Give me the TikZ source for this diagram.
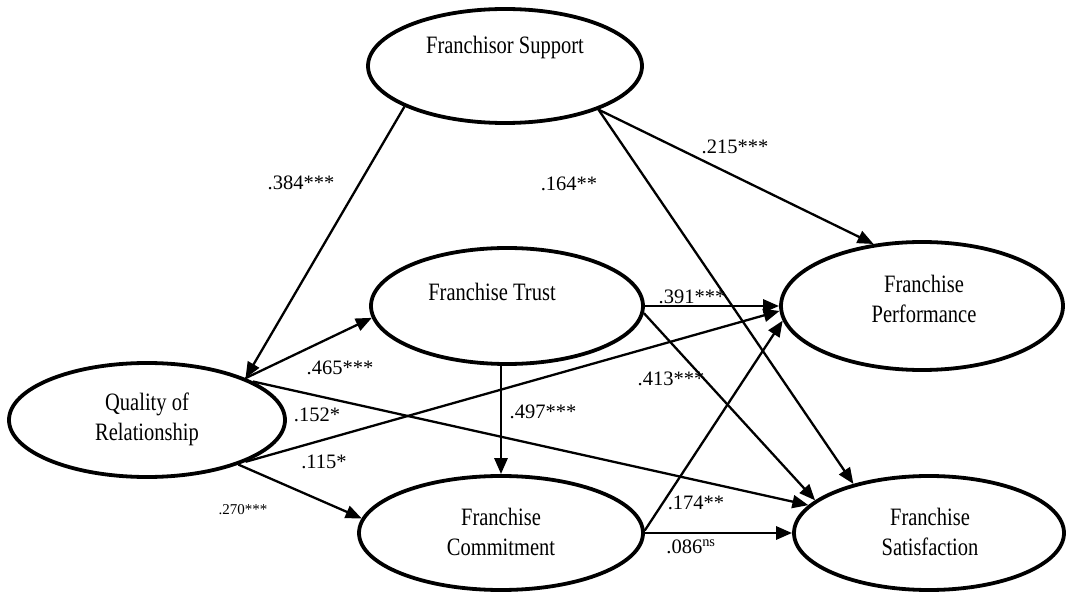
\documentclass[tikz,border=0pt]{standalone}
\usepackage{fontspec}
\setmainfont{Liberation Serif}
\newfontfamily\ttlfont[FakeStretch=0.82]{Liberation Serif}
\usetikzlibrary{arrows.meta,shapes.geometric}
\begin{document}
\begin{tikzpicture}[x=1pt,y=-1pt,
  ell/.style={draw, ellipse, line width=3.8pt, inner sep=0pt},
  ttl/.style={font=\ttlfont\fontsize{25}{30}\selectfont, align=center, inner sep=0pt},
  lbl/.style={font=\fontsize{20.5}{24}\selectfont, inner sep=0pt},
  lbls/.style={font=\fontsize{15}{18}\selectfont, inner sep=0pt},
  arr/.style={line width=2.3pt, -{Triangle[length=16pt,width=13pt]}},
  arrb/.style={arr, line width=2.9pt},
]
\useasboundingbox (0,0) rectangle (1066,593);

% ellipses
\node[ell, minimum width=274pt, minimum height=114pt] (fs) at (505,66) {};
\node[ell, minimum width=272pt, minimum height=116pt] (trust) at (507,306) {};
\node[ell, minimum width=276pt, minimum height=114pt] (qor) at (147,420) {};
\node[ell, minimum width=284pt, minimum height=114pt] (comm) at (501,533) {};
\node[ell, minimum width=282pt, minimum height=128pt] (perf) at (922,306) {};
\node[ell, minimum width=270pt, minimum height=114pt] (sat) at (929,533) {};

% texts
\node[ttl] (fst) at (505,47) {Franchisor Support};
\node[ttl] (trt) at (492,292) {Franchise Trust};
\node[ttl] (qort) at (147,419) {Quality of\\Relationship};
\node[ttl] (perft) at (924,299) {Franchise\\Performance};
\node[ttl] (commt) at (501,532) {Franchise\\Commitment};
\node[ttl] (satt) at (930,532) {Franchise\\Satisfaction};

% connectors
\draw[arr] (fs.202.5) -- (qor.23);
\draw[arr] (qor.23) -- (trust.185.8);
\draw[arr] (qor.20) -- (sat.167.8);
\draw[arr] (qor.337.6) -- (perf.182.4);
\draw[arr] (qor.334.7) -- (comm.174.7);
\draw[arrb] (trust.south -| comm.north) -- (comm.north);
\draw[arrb] (trust.east) -- (perf.west);
\draw[arr] (trust.357.5) -- (sat.164.1);
\draw[arr] (fs.335) -- (sat.147.5);
\draw[arr] (fs.335) -- (perf.128.4);
\draw[arr] (comm.1) -- (perf.186.4);
\draw[arrb] (comm.east) -- (sat.west);

% labels
\node[lbl] (l384) at (301,183) {.384***};
\node[lbl] (l164) at (569,184) {.164**};
\node[lbl] (l215) at (735,147) {.215***};
\node[lbl] (l391) at (692,297) {.391***};
\node[lbl] (l465) at (340,368) {.465***};
\node[lbl] (l152) at (317,415) {.152*};
\node[lbl] (l115) at (324,462) {.115*};
\node[lbls] (l270) at (243,510) {.270***};
\node[lbl] (l497) at (543,412) {.497***};
\node[lbl] (l413) at (671,379) {.413***};
\node[lbl] (l174) at (696,503) {.174**};
\node[lbl] (l086) at (691,547) {.086\textsuperscript{ns}};
\end{tikzpicture}
\end{document}
